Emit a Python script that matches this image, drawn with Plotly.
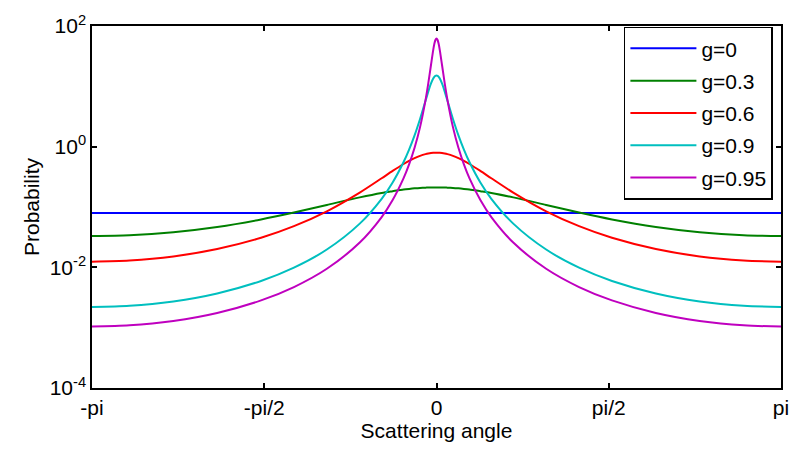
import plotly.graph_objects as go

# Scattering angles (radians), one half; the curves are symmetric about 0
angle_half = [0, 0.01, 0.02, 0.03, 0.05, 0.075, 0.1, 0.15, 0.2, 0.25, 0.3, 0.4, 0.5,
              0.7, 1.0, 1.3, 1.6, 2.0, 2.4, 2.8, 3.14159265]

p_g0 = [0.0796] * len(angle_half)
p_g03 = [0.2111, 0.2111, 0.2110, 0.2110, 0.2109, 0.2101, 0.2092, 0.2068, 0.2036, 0.1996,
         0.1949, 0.183, 0.1712, 0.1444, 0.1081, 0.0808, 0.0621, 0.0467, 0.0382, 0.0340, 0.0330]
p_g06 = [0.7958, 0.7953, 0.7940, 0.7918, 0.7847, 0.7713, 0.7530, 0.7049, 0.6457, 0.5811,
         0.5159, 0.3962, 0.2996, 0.1732, 0.0848, 0.0481, 0.0309, 0.0201, 0.01514, 0.01296, 0.01243]
p_g09 = [15.12, 14.92, 14.34, 13.45, 11.15, 8.18, 5.776, 2.879, 1.5386, 0.8926,
         0.5563, 0.2549, 0.1368, 0.0530, 0.01973, 0.00987, 0.00595, 0.003693, 0.002721, 0.002303, 0.002204]
p_g095 = [62.07, 58.70, 50.20, 39.93, 22.79, 11.175, 5.908, 2.108, 0.9565, 0.5079,
          0.3005, 0.1303, 0.0681, 0.02576, 0.009464, 0.004713, 0.002832, 0.001755, 0.001292, 0.001093, 0.001046]

names = ["g=0", "g=0.3", "g=0.6", "g=0.9", "g=0.95"]
series = [p_g0, p_g03, p_g06, p_g09, p_g095]
colors = ["#0000FF", "#008000", "#FF0000", "#00BFBF", "#BF00BF"]

x_tickvals = [-3.14159265, -1.5707963, 0, 1.5707963, 3.14159265]
x_ticktext = ["-pi", "-pi/2", "0", "pi/2", "pi"]
y_tickvals = [1e-4, 1e-2, 1, 1e2]
y_ticktext = ["10<sup>-4</sup>", "10<sup>-2</sup>", "10<sup>0</sup>", "10<sup>2</sup>"]

x_full = [-a for a in angle_half[::-1]] + angle_half[1:]

fig = go.Figure()
for name, vals, col in zip(names, series, colors):
    y_full = vals[::-1] + vals[1:]
    fig.add_trace(go.Scatter(x=x_full, y=y_full, mode="lines", name=name,
                             legendgroup=name,
                             line=dict(color=col, width=2, shape="spline", smoothing=0.8)))

font = "Liberation Sans, Arial, sans-serif"
fig.update_layout(
    width=801, height=455,
    margin=dict(l=92, r=12, t=20, b=67),
    paper_bgcolor="white", plot_bgcolor="white",
    font=dict(family=font, size=21, color="black"),
    showlegend=True,
    legend=dict(x=0.772, y=0.998, xanchor="left", yanchor="top",
                bgcolor="white", bordercolor="black", borderwidth=1.5,
                itemwidth=66,
                font=dict(size=21, family=font), tracegroupgap=2),
    xaxis=dict(range=[-3.14159265, 3.14159265], tickvals=x_tickvals, ticktext=x_ticktext,
               showgrid=False, zeroline=False, showline=True, linecolor="black",
               linewidth=1.5, mirror="ticks", ticks="inside", ticklen=5,
               tickcolor="black", tickwidth=1.5,
               title=dict(text="Scattering angle", standoff=2, font=dict(size=21))),
    yaxis=dict(type="log", range=[-4, 2], tickvals=y_tickvals, ticktext=y_ticktext,
               showgrid=False, zeroline=False, showline=True, linecolor="black",
               linewidth=1.5, mirror="ticks", ticks="inside", ticklen=5,
               tickcolor="black", tickwidth=1.5,
               title=dict(text="Probability", standoff=4, font=dict(size=21))),
)

fig.write_html("out.html")
